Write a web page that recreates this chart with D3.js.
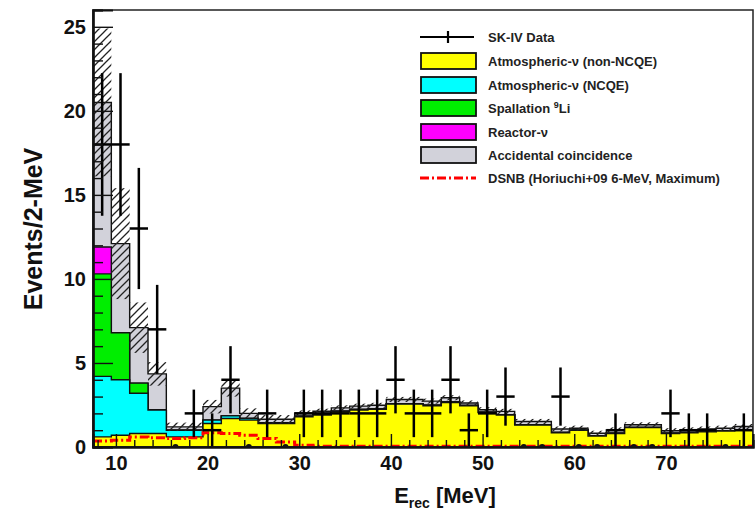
<!DOCTYPE html>
<html>
<head>
<meta charset="utf-8">
<script src="https://cdn.jsdelivr.net/npm/d3@7"></script>
<style>
  body { margin: 0; background: #fff; }
  text { font-family: "Liberation Sans", Arial, Helvetica, sans-serif; font-weight: bold; }
</style>
</head>
<body>
<svg id="chart"></svg>
<script>
const width = 756;
const height = 511;

// 2-MeV bins, centres in MeV
const binCenters = [8.5, 10.5, 12.5, 14.5, 16.5, 18.5, 20.5, 22.5, 24.5, 26.5, 28.5, 30.5,
    32.5, 34.5, 36.5, 38.5, 40.5, 42.5, 44.5, 46.5, 48.5, 50.5, 52.5, 54.5,
    56.5, 58.5, 60.5, 62.5, 64.5, 66.5, 68.5, 70.5, 72.5, 74.5, 76.5, 78.5];
const binHalf = 1;

// SK-IV data (events per bin)
const dataCounts = [18, 18, 13, 7, 0, 2, 1, 4, 0, 2, 0, 2,
    2, 2, 2, 2, 4, 2, 2, 4, 1, 2, 3, 0,
    0, 3, 0, 0, 1, 0, 0, 2, 1, 1, 0, 1];

// background components (stacked, bottom to top)
const atmNonNCQE = [0.6, 0.7, 0.8, 0.8, 0.6, 0.6, 1.4, 1.7, 1.6, 1.4, 1.4, 1.8,
    1.9, 2.1, 2.2, 2.25, 2.55, 2.55, 2.45, 2.65, 2.45, 2.05, 1.9, 1.3,
    1.3, 0.85, 1.0, 0.65, 0.8, 1.15, 1.15, 0.8, 0.85, 0.9, 0.95, 1.0];
const atmNCQE = [3.6, 3.3, 2.4, 1.4, 0.4, 0.4, 0.2, 0.15, 0.1, 0.05, 0.05, 0.03,
    0.03, 0.03, 0.03, 0.03, 0.03, 0.03, 0.03, 0.03, 0.02, 0.02, 0.02, 0.02,
    0.02, 0.02, 0.02, 0.02, 0.02, 0.02, 0.02, 0.02, 0.02, 0.02, 0.02, 0.02];
const spallationLi9 = [6.1, 2.8, 0.6, 0, 0, 0, 0, 0, 0, 0, 0, 0,
    0, 0, 0, 0, 0, 0, 0, 0, 0, 0, 0, 0,
    0, 0, 0, 0, 0, 0, 0, 0, 0, 0, 0, 0];
const reactorNu = [1.6, 0, 0, 0, 0, 0, 0, 0, 0, 0, 0, 0,
    0, 0, 0, 0, 0, 0, 0, 0, 0, 0, 0, 0,
    0, 0, 0, 0, 0, 0, 0, 0, 0, 0, 0, 0];
const accidental = [8.6, 5.3, 3.3, 2.15, 0.2, 0.2, 0.8, 1.65, 0.3, 0.2, 0.2, 0.2,
    0.2, 0.2, 0.2, 0.2, 0.25, 0.25, 0.25, 0.25, 0.15, 0.15, 0.2, 0.2,
    0.2, 0.2, 0.1, 0.15, 0.2, 0.15, 0.15, 0.15, 0.15, 0.15, 0.15, 0.2];
// uncertainty of the total background (hatched band)
const bkgError = [4.4, 3.3, 1.5, 0.7, 0.25, 0.25, 0.4, 0.5, 0.3, 0.25, 0.25, 0.15,
    0.15, 0.15, 0.15, 0.15, 0.15, 0.15, 0.15, 0.15, 0.15, 0.15, 0.15, 0.15,
    0.15, 0.15, 0.15, 0.15, 0.15, 0.15, 0.15, 0.15, 0.15, 0.15, 0.15, 0.15];
// DSNB expectation (Horiuchi+09 6-MeV, maximum)
const dsnb = [0.35, 0.4, 0.6, 0.55, 0.5, 0.55, 0.85, 0.8, 0.7, 0.5, 0.3, 0.1,
    0.05, 0.05, 0.04, 0.04, 0.04, 0.04, 0.04, 0.04, 0.04, 0.04, 0.04, 0.04,
    0.04, 0.04, 0.04, 0.04, 0.04, 0.04, 0.04, 0.04, 0.04, 0.04, 0.04, 0.04];

const xTicks = [10, 20, 30, 40, 50, 60, 70];
const xMinorTicks = [8, 12, 14, 16, 18, 22, 24, 26, 28, 32, 34, 36, 38, 42, 44, 46, 48,
    52, 54, 56, 58, 62, 64, 66, 68, 72, 74, 76, 78];
const yTicks = [0, 5, 10, 15, 20, 25];
const yMinorTicks = [1, 2, 3, 4, 6, 7, 8, 9, 11, 12, 13, 14, 16, 17, 18, 19, 21, 22, 23, 24, 26];

const layers = [
    { name: "Atmospheric-\u03bd (non-NCQE)", values: atmNonNCQE, color: "#ffff00" },
    { name: "Atmospheric-\u03bd (NCQE)", values: atmNCQE, color: "#00ffff" },
    { name: "Spallation Li", values: spallationLi9, color: "#00ee00" },
    { name: "Reactor-\u03bd", values: reactorNu, color: "#ff00ff" },
    { name: "Accidental coincidence", values: accidental, color: "#d2d2da" }
];

const plot = { left: 93, right: 753, top: 10, bottom: 447 };

const x = d3.scaleLinear().domain([7.5, 79.5]).range([plot.left, plot.right]);
const y = d3.scaleLinear().domain([0, 26]).range([plot.bottom, plot.top]);

const svg = d3.select("#chart")
    .attr("width", width)
    .attr("height", height);

const defs = svg.append("defs");
defs.append("clipPath").attr("id", "plotClip")
    .append("rect")
    .attr("x", plot.left).attr("y", plot.top)
    .attr("width", plot.right - plot.left).attr("height", plot.bottom - plot.top);

const hatch = defs.append("pattern")
    .attr("id", "hatch")
    .attr("patternUnits", "userSpaceOnUse")
    .attr("width", 8).attr("height", 8);
hatch.append("path")
    .attr("d", "M-2,2 l4,-4 M0,8 l8,-8 M6,10 l4,-4")
    .attr("stroke", "#222")
    .attr("stroke-width", 1.3);

// cumulative sums for the stack
let running = binCenters.map(() => 0);
const cumulative = layers.map(l => {
    running = running.map((v, i) => v + l.values[i]);
    return { ...l, top: running.slice() };
});
const total = running;

// step points for a histogram
function stepPoints(vals) {
    const pts = [];
    binCenters.forEach((c, i) => {
        pts.push([c - binHalf, vals[i]]);
        pts.push([c + binHalf, vals[i]]);
    });
    return pts;
}

const g = svg.append("g").attr("clip-path", "url(#plotClip)");

const area = d3.area()
    .x(d => x(d[0]))
    .y0(y(0))
    .y1(d => y(d[1]));

// ROOT-like stack: the highest cumulative drawn first
cumulative.slice().reverse().forEach(l => {
    g.append("path")
        .datum(stepPoints(l.top))
        .attr("d", area)
        .attr("fill", l.color)
        .attr("stroke", "#111")
        .attr("stroke-width", 1.4);
});

// hatched uncertainty band
g.selectAll(".band")
    .data(binCenters)
    .enter().append("rect")
    .attr("class", "band")
    .attr("x", d => x(d - binHalf))
    .attr("width", d => x(d + binHalf) - x(d - binHalf))
    .attr("y", (d, i) => y(total[i] + bkgError[i]))
    .attr("height", (d, i) => y(total[i] - bkgError[i]) - y(total[i] + bkgError[i]))
    .attr("fill", "url(#hatch)");

// DSNB
g.append("path")
    .datum(stepPoints(dsnb))
    .attr("d", d3.line().x(d => x(d[0])).y(d => y(d[1])))
    .attr("fill", "none")
    .attr("stroke", "#ff0000")
    .attr("stroke-width", 3)
    .attr("stroke-dasharray", "9,3,2,3");

// data points
const pts = binCenters.map((c, i) => ({ c: c, n: dataCounts[i] }));
const nonZero = pts.filter(d => d.n > 0);
g.selectAll(".errv")
    .data(nonZero)
    .enter().append("line")
    .attr("x1", d => x(d.c)).attr("x2", d => x(d.c))
    .attr("y1", d => y(d.n + Math.sqrt(d.n)))
    .attr("y2", d => y(d.n - Math.sqrt(d.n)))
    .attr("stroke", "#000").attr("stroke-width", 2.5);
g.selectAll(".errh")
    .data(nonZero)
    .enter().append("line")
    .attr("x1", d => x(d.c - binHalf)).attr("x2", d => x(d.c + binHalf))
    .attr("y1", d => y(d.n)).attr("y2", d => y(d.n))
    .attr("stroke", "#000").attr("stroke-width", 2.5);
g.selectAll(".zero")
    .data(pts.filter(d => d.n === 0))
    .enter().append("circle")
    .attr("cx", d => x(d.c))
    .attr("cy", y(0))
    .attr("r", 3)
    .attr("fill", "#111");

// frame
svg.append("rect")
    .attr("x", plot.left).attr("y", plot.top)
    .attr("width", plot.right - plot.left).attr("height", plot.bottom - plot.top)
    .attr("fill", "none")
    .attr("stroke", "#222")
    .attr("stroke-width", 1.5);

// axes
svg.append("g")
    .attr("transform", `translate(${plot.left},0)`)
    .call(d3.axisLeft(y).tickValues(yTicks).tickSize(-20).tickPadding(7));
svg.append("g")
    .attr("transform", `translate(${plot.left},0)`)
    .call(d3.axisLeft(y).tickValues(yMinorTicks).tickSize(-10).tickFormat(""));

svg.append("g")
    .attr("transform", `translate(0,${plot.bottom})`)
    .call(d3.axisBottom(x).tickValues(xTicks).tickSize(-13).tickPadding(9));
svg.append("g")
    .attr("transform", `translate(0,${plot.bottom})`)
    .call(d3.axisBottom(x).tickValues(xMinorTicks).tickSize(-7).tickFormat(""));

svg.selectAll(".domain").attr("stroke", "#111").attr("stroke-width", 2.2);
svg.selectAll(".tick line").attr("stroke", "#111").attr("stroke-width", 1.4);
svg.selectAll(".tick text")
    .attr("font-size", 20)
    .attr("font-family", "Liberation Sans, Arial, sans-serif")
    .attr("font-weight", "bold")
    .attr("fill", "#111");

// axis titles
const xTitle = svg.append("text")
    .attr("x", 445).attr("y", 503)
    .attr("text-anchor", "middle")
    .attr("font-size", 22)
    .attr("fill", "#111");
xTitle.append("tspan").text("E");
xTitle.append("tspan").attr("font-size", 14).attr("dy", 5).text("rec");
xTitle.append("tspan").attr("dy", -5).text(" [MeV]");

svg.append("text")
    .attr("transform", "translate(42,229) rotate(-90)")
    .attr("text-anchor", "middle")
    .attr("font-size", 25)
    .attr("fill", "#111")
    .text("Events/2-MeV");

// legend
const legend = svg.append("g").attr("transform", "translate(420,0)");
const rowY = [37, 61, 85, 108, 132, 155, 178];

legend.append("line")
    .attr("x1", 0).attr("x2", 54).attr("y1", rowY[0]).attr("y2", rowY[0])
    .attr("stroke", "#000").attr("stroke-width", 2.2);
legend.append("line")
    .attr("x1", 28).attr("x2", 28).attr("y1", rowY[0] - 6).attr("y2", rowY[0] + 6)
    .attr("stroke", "#000").attr("stroke-width", 2.2);
legend.append("text")
    .attr("x", 68).attr("y", rowY[0]).attr("dy", "0.35em")
    .attr("font-size", 13).attr("fill", "#222")
    .text("SK-IV Data");

layers.forEach((l, i) => {
    const ry = rowY[i + 1];
    legend.append("rect")
        .attr("x", 1).attr("y", ry - 8)
        .attr("width", 55).attr("height", 16)
        .attr("fill", l.color)
        .attr("stroke", "#111").attr("stroke-width", 1.8);
    const t = legend.append("text")
        .attr("x", 68).attr("y", ry).attr("dy", "0.35em")
        .attr("font-size", 13).attr("fill", "#222");
    if (l.values === spallationLi9) {
        t.append("tspan").text("Spallation ");
        t.append("tspan").attr("font-size", 9).attr("dy", -5).text("9");
        t.append("tspan").attr("dy", 5).text("Li");
    } else {
        t.text(l.name);
    }
});

legend.append("line")
    .attr("x1", 0).attr("x2", 56).attr("y1", rowY[6]).attr("y2", rowY[6])
    .attr("stroke", "#ff0000").attr("stroke-width", 3)
    .attr("stroke-dasharray", "9,3,2,3");
legend.append("text")
    .attr("x", 68).attr("y", rowY[6]).attr("dy", "0.35em")
    .attr("font-size", 13).attr("fill", "#222")
    .text("DSNB (Horiuchi+09 6-MeV, Maximum)");
</script>
</body>
</html>
